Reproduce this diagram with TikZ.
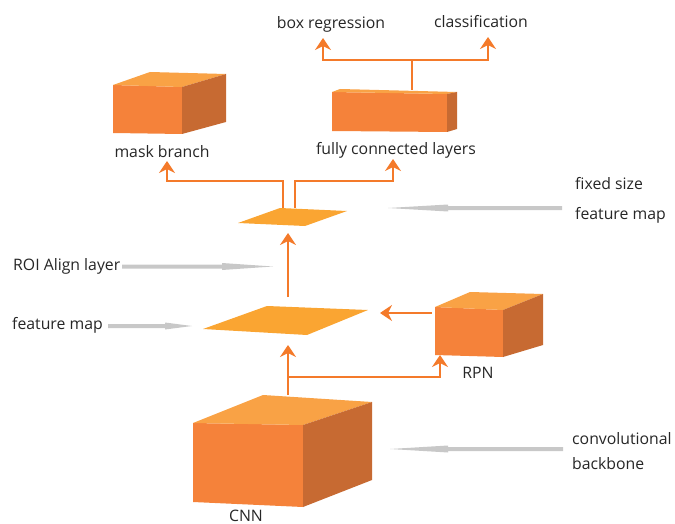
\documentclass[tikz,border=0pt]{standalone}
\usepackage{fontspec}
\setmainfont{Open Sans}
\usetikzlibrary{arrows.meta}
\definecolor{ofront}{HTML}{F5823A}
\definecolor{otop}{HTML}{F9A245}
\definecolor{oside}{HTML}{C76A32}
\definecolor{fmap}{HTML}{FAA532}
\definecolor{oline}{HTML}{F47A2A}
\definecolor{gline}{HTML}{C8C8C8}
\tikzset{
  lbl/.style={font=\fontsize{15.8}{18}\selectfont, text=black!85, inner sep=0pt},
  flow/.style={draw=oline, line width=2.8pt, -{Stealth[length=12pt,width=16pt,inset=4pt]}},
  wire/.style={draw=oline, line width=2.8pt},
  frontface/.style={fill=ofront},
  topface/.style={fill=otop},
  sideface/.style={fill=oside},
  fmapface/.style={fill=fmap},
  grayarrow/.style={fill=gline}
}
\begin{document}
\begin{tikzpicture}[x=1pt,y=-1pt]
\useasboundingbox (0,0) rectangle (675,524);
% ---- boxes ----
% mask branch
\fill[frontface] (113,85)--(182,87)--(182,134)--(113,133)--cycle;
\fill[topface] (113,85)--(150,72)--(226,74)--(182,87)--cycle;
\fill[sideface] (182,87)--(226,74)--(226,122)--(182,134)--cycle;
% fully connected
\fill[frontface] (332,92)--(447,94)--(447,132)--(332,131)--cycle;
\fill[topface] (332,92)--(340,89)--(457,92)--(447,94)--cycle;
\fill[sideface] (447,94)--(457,92)--(457,129)--(447,132)--cycle;
% RPN
\fill[frontface] (435,307)--(503,310)--(503,357)--(435,355)--cycle;
\fill[topface] (435,307)--(470,292)--(543,294)--(503,310)--cycle;
\fill[sideface] (503,310)--(543,294)--(543,345)--(503,357)--cycle;
% CNN
\fill[frontface] (193,423)--(303,425)--(303,507)--(193,502)--cycle;
\fill[topface] (193,423)--(263,395)--(372,402)--(303,425)--cycle;
\fill[sideface] (303,425)--(372,402)--(372,480)--(303,507)--cycle;
% feature maps
\fill[fmapface] (238,223)--(280,208)--(347,211)--(305,226)--cycle;
\fill[fmapface] (203,329)--(267,306)--(368,310)--(307,335)--cycle;

% ---- anchor coordinates ----
\coordinate (cnnTop) at (288,395);
\coordinate (fmBot) at (288,345);
\coordinate (fmTop) at (288,297);
\coordinate (fixBot) at (288,233);
\coordinate (split) at (288,377);
\coordinate (rpnTurn) at (440,377);
\coordinate (rpnBot) at (440,355);
\coordinate (rpnLeft) at (432,313);
\coordinate (fmRight) at (380,313);
\coordinate (fixL) at (283,208);
\coordinate (fixR) at (295,208);
\coordinate (maskTurn) at (167,181);
\coordinate (maskIn) at (167,161);
\coordinate (fcTurn) at (393,181);
\coordinate (fcIn) at (393,159);
\coordinate (fcTop) at (412,90);
\coordinate (fcSplit) at (412,60);
\coordinate (brTurn) at (323,60);
\coordinate (brOut) at (323,38);
\coordinate (clTurn) at (488,60);
\coordinate (clOut) at (488,37);

% ---- orange connectors ----
\draw[flow] (cnnTop) -- (fmBot);
\draw[flow] (split) -- (rpnTurn) -- (rpnBot);
\draw[flow] (rpnLeft) -- (fmRight);
\draw[flow] (fmTop) -- (fixBot);
\draw[flow] (fixL) |- (maskTurn) -- (maskIn);
\draw[flow] (fixR) |- (fcTurn) -- (fcIn);
\draw[wire] (fcTop) -- (fcSplit);
\draw[flow] (fcSplit) -- (brTurn) -- (brOut);
\draw[flow] (fcSplit) -- (clTurn) -- (clOut);

% ---- gray arrows ----
\fill[grayarrow] (122,264.5)--(222,264.5)--(222,263)--(273,266.5)--(222,270)--(222,268.5)--(122,268.5)--cycle;
\fill[grayarrow] (108,324)--(165,324)--(165,322.5)--(192,326)--(165,329.5)--(165,328)--(108,328)--cycle;
\fill[grayarrow] (562,206)--(448,206)--(448,204.5)--(388,208)--(448,211.5)--(448,210)--(562,210)--cycle;
\fill[grayarrow] (563,447)--(448,447)--(448,445.5)--(390,449)--(448,452.5)--(448,451)--(563,451)--cycle;

% ---- labels ----
\node[lbl] (tbr) at (331,24) {box regression};
\node[lbl] (tcl) at (481,22) {classification};
\node[lbl] (tmask) at (162,152) {mask branch};
\node[lbl] (tfc) at (396,150) {fully connected layers};
\node[lbl,anchor=west] (tfix1) at (575,184) {fixed size};
\node[lbl,anchor=west] (tfix2) at (575,215) {feature map};
\node[lbl,anchor=west] (troi) at (13,266) {ROI Align layer};
\node[lbl,anchor=west] (tfm) at (12,325) {feature map};
\node[lbl] (trpn) at (478,373) {RPN};
\node[lbl,anchor=west] (tcb1) at (572,439) {convolutional};
\node[lbl,anchor=west] (tcb2) at (572,464) {backbone};
\node[lbl] (tcnn) at (246,516) {CNN};
\end{tikzpicture}
\end{document}
